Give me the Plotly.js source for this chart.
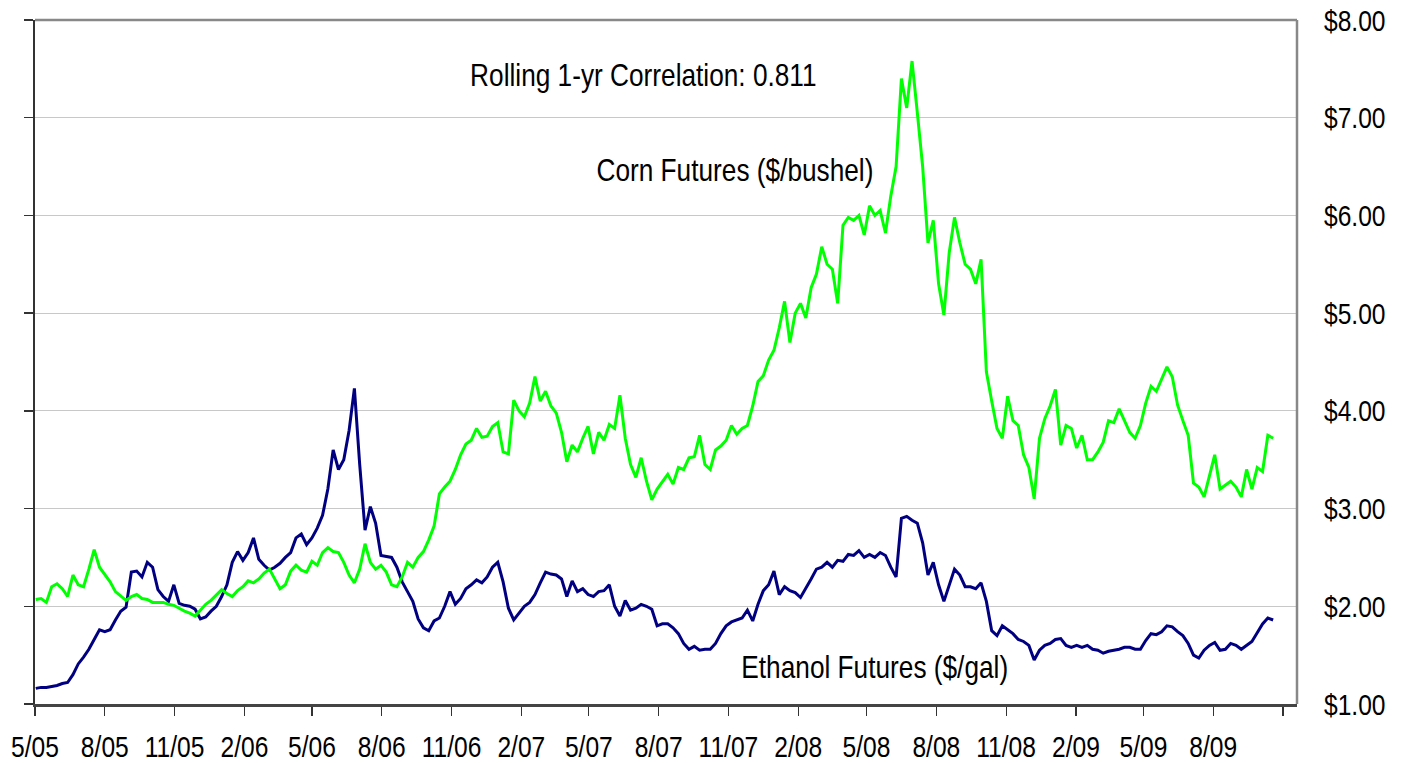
<!DOCTYPE html>
<html>
<head>
<meta charset="utf-8">
<script src="https://cdn.plot.ly/plotly-3.0.1.min.js"></script>
<style>html,body{margin:0;padding:0;background:#fff;}#chart{width:1403px;height:763px;}</style>
</head>
<body>
<div id="chart"></div>
<script>
// Weekly observation dates (Mondays)
const weeks = [
'2005-05-02','2005-05-09','2005-05-16','2005-05-23','2005-05-30','2005-06-06','2005-06-13','2005-06-20','2005-06-27','2005-07-04',
'2005-07-11','2005-07-18','2005-07-25','2005-08-01','2005-08-08','2005-08-15','2005-08-22','2005-08-29','2005-09-05','2005-09-12',
'2005-09-19','2005-09-26','2005-10-03','2005-10-10','2005-10-17','2005-10-24','2005-10-31','2005-11-07','2005-11-14','2005-11-21',
'2005-11-28','2005-12-05','2005-12-12','2005-12-19','2005-12-26','2006-01-02','2006-01-09','2006-01-16','2006-01-23','2006-01-30',
'2006-02-06','2006-02-13','2006-02-20','2006-02-27','2006-03-06','2006-03-13','2006-03-20','2006-03-27','2006-04-03','2006-04-10',
'2006-04-17','2006-04-24','2006-05-01','2006-05-08','2006-05-15','2006-05-22','2006-05-29','2006-06-05','2006-06-12','2006-06-19',
'2006-06-26','2006-07-03','2006-07-10','2006-07-17','2006-07-24','2006-07-31','2006-08-07','2006-08-14','2006-08-21','2006-08-28',
'2006-09-04','2006-09-11','2006-09-18','2006-09-25','2006-10-02','2006-10-09','2006-10-16','2006-10-23','2006-10-30','2006-11-06',
'2006-11-13','2006-11-20','2006-11-27','2006-12-04','2006-12-11','2006-12-18','2006-12-25','2007-01-01','2007-01-08','2007-01-15',
'2007-01-22','2007-01-29','2007-02-05','2007-02-12','2007-02-19','2007-02-26','2007-03-05','2007-03-12','2007-03-19','2007-03-26',
'2007-04-02','2007-04-09','2007-04-16','2007-04-23','2007-04-30','2007-05-07','2007-05-14','2007-05-21','2007-05-28','2007-06-04',
'2007-06-11','2007-06-18','2007-06-25','2007-07-02','2007-07-09','2007-07-16','2007-07-23','2007-07-30','2007-08-06','2007-08-13',
'2007-08-20','2007-08-27','2007-09-03','2007-09-10','2007-09-17','2007-09-24','2007-10-01','2007-10-08','2007-10-15','2007-10-22',
'2007-10-29','2007-11-05','2007-11-12','2007-11-19','2007-11-26','2007-12-03','2007-12-10','2007-12-17','2007-12-24','2007-12-31',
'2008-01-07','2008-01-14','2008-01-21','2008-01-28','2008-02-04','2008-02-11','2008-02-18','2008-02-25','2008-03-03','2008-03-10',
'2008-03-17','2008-03-24','2008-03-31','2008-04-07','2008-04-14','2008-04-21','2008-04-28','2008-05-05','2008-05-12','2008-05-19',
'2008-05-26','2008-06-02','2008-06-09','2008-06-16','2008-06-23','2008-06-30','2008-07-07','2008-07-14','2008-07-21','2008-07-28',
'2008-08-04','2008-08-11','2008-08-18','2008-08-25','2008-09-01','2008-09-08','2008-09-15','2008-09-22','2008-09-29','2008-10-06',
'2008-10-13','2008-10-20','2008-10-27','2008-11-03','2008-11-10','2008-11-17','2008-11-24','2008-12-01','2008-12-08','2008-12-15',
'2008-12-22','2008-12-29','2009-01-05','2009-01-12','2009-01-19','2009-01-26','2009-02-02','2009-02-09','2009-02-16','2009-02-23',
'2009-03-02','2009-03-09','2009-03-16','2009-03-23','2009-03-30','2009-04-06','2009-04-13','2009-04-20','2009-04-27','2009-05-04',
'2009-05-11','2009-05-18','2009-05-25','2009-06-01','2009-06-08','2009-06-15','2009-06-22','2009-06-29','2009-07-06','2009-07-13',
'2009-07-20','2009-07-27','2009-08-03','2009-08-10','2009-08-17','2009-08-24','2009-08-31','2009-09-07','2009-09-14','2009-09-21',
'2009-09-28','2009-10-05','2009-10-12','2009-10-19'
];

// Corn futures ($/bushel)
const corn = [
2.07,2.08,2.04,2.20,2.23,2.18,2.10,2.32,2.22,2.20,
2.38,2.58,2.40,2.32,2.25,2.15,2.10,2.06,2.10,2.12,
2.08,2.07,2.04,2.04,2.04,2.02,2.01,1.98,1.95,1.93,
1.90,1.96,2.02,2.06,2.12,2.17,2.13,2.10,2.16,2.20,
2.26,2.24,2.28,2.34,2.38,2.28,2.18,2.22,2.36,2.42,
2.37,2.35,2.46,2.42,2.55,2.60,2.56,2.55,2.45,2.32,
2.24,2.38,2.64,2.45,2.38,2.42,2.35,2.22,2.20,2.30,
2.45,2.40,2.50,2.56,2.68,2.82,3.15,3.22,3.28,3.40,
3.55,3.66,3.70,3.82,3.73,3.74,3.84,3.88,3.58,3.56,
4.11,4.00,3.94,4.08,4.35,4.10,4.20,4.05,3.98,3.78,
3.48,3.65,3.58,3.72,3.84,3.56,3.78,3.70,3.86,3.82,
4.16,3.72,3.45,3.32,3.52,3.28,3.09,3.20,3.28,3.35,
3.25,3.42,3.40,3.52,3.53,3.75,3.45,3.40,3.60,3.64,
3.70,3.85,3.76,3.82,3.85,4.05,4.30,4.36,4.52,4.62,
4.85,5.12,4.70,5.00,5.10,4.95,5.26,5.40,5.68,5.50,
5.45,5.10,5.90,5.98,5.95,6.00,5.80,6.10,6.00,6.05,
5.82,6.20,6.50,7.40,7.10,7.58,7.05,6.50,5.72,5.95,
5.30,4.98,5.62,5.98,5.72,5.50,5.45,5.30,5.55,4.40,
4.10,3.82,3.72,4.15,3.90,3.85,3.55,3.42,3.10,3.72,
3.92,4.05,4.22,3.65,3.85,3.82,3.62,3.75,3.50,3.50,
3.58,3.68,3.90,3.88,4.02,3.90,3.78,3.72,3.85,4.08,
4.25,4.20,4.32,4.45,4.35,4.06,3.90,3.75,3.26,3.22,
3.12,3.35,3.55,3.20,3.24,3.28,3.22,3.12,3.40,3.20,
3.42,3.38,3.75,3.72
];

// Ethanol futures ($/gal)
const ethanol = [
1.16,1.17,1.17,1.18,1.19,1.21,1.22,1.30,1.41,1.48,
1.56,1.66,1.76,1.74,1.76,1.86,1.95,1.99,2.35,2.36,
2.30,2.45,2.40,2.17,2.10,2.05,2.22,2.03,2.01,2.00,
1.97,1.87,1.89,1.95,2.00,2.10,2.22,2.45,2.56,2.47,
2.55,2.70,2.48,2.42,2.37,2.40,2.44,2.50,2.55,2.70,
2.74,2.63,2.70,2.80,2.93,3.20,3.60,3.40,3.50,3.80,
4.23,3.45,2.78,3.02,2.85,2.52,2.51,2.50,2.40,2.25,
2.15,2.05,1.87,1.78,1.75,1.85,1.88,2.00,2.15,2.02,
2.08,2.18,2.22,2.27,2.24,2.30,2.40,2.45,2.25,1.98,
1.86,1.93,2.00,2.04,2.12,2.24,2.35,2.33,2.32,2.28,
2.10,2.26,2.15,2.18,2.12,2.10,2.15,2.16,2.22,2.00,
1.90,2.06,1.96,1.98,2.02,2.00,1.97,1.80,1.82,1.82,
1.78,1.72,1.62,1.56,1.59,1.55,1.56,1.56,1.62,1.72,
1.80,1.84,1.86,1.88,1.96,1.85,2.02,2.16,2.22,2.36,
2.12,2.20,2.16,2.14,2.09,2.18,2.28,2.38,2.40,2.45,
2.40,2.47,2.46,2.53,2.52,2.57,2.50,2.53,2.50,2.55,
2.52,2.40,2.30,2.90,2.92,2.88,2.85,2.65,2.32,2.45,
2.22,2.05,2.22,2.38,2.32,2.20,2.20,2.18,2.24,2.05,
1.75,1.70,1.80,1.76,1.72,1.66,1.64,1.60,1.45,1.55,
1.60,1.62,1.66,1.67,1.60,1.58,1.60,1.58,1.60,1.56,
1.55,1.52,1.54,1.55,1.56,1.58,1.58,1.56,1.56,1.65,
1.72,1.71,1.74,1.80,1.79,1.74,1.70,1.62,1.50,1.47,
1.55,1.60,1.63,1.55,1.56,1.62,1.60,1.56,1.60,1.64,
1.73,1.82,1.88,1.86
];

// Quarterly x-axis ticks
const tickDates = ['2005-05-01','2005-08-01','2005-11-01','2006-02-01','2006-05-01','2006-08-01','2006-11-01',
  '2007-02-01','2007-05-01','2007-08-01','2007-11-01','2008-02-01','2008-05-01','2008-08-01','2008-11-01',
  '2009-02-01','2009-05-01','2009-08-01','2009-11-01'];
const tickLabels = ['5/05','8/05','11/05','2/06','5/06','8/06','11/06','2/07','5/07','8/07','11/07',
  '2/08','5/08','8/08','11/08','2/09','5/09','8/09',''];
const priceTicks = [1,2,3,4,5,6,7,8];

const FONT = 'Liberation Sans Narrow, Arial Narrow, Liberation Sans, Arial, sans-serif';

const traces = [
  {x: weeks, y: ethanol, type: 'scatter', mode: 'lines', name: 'Ethanol Futures ($/gal)',
   line: {color: '#000080', width: 3}, yaxis: 'y', hoverinfo: 'skip'},
  {x: weeks, y: corn, type: 'scatter', mode: 'lines', name: 'Corn Futures ($/bushel)',
   line: {color: '#00FF00', width: 3}, yaxis: 'y2', hoverinfo: 'skip'}
];

const layout = {
  width: 1403, height: 763,
  margin: {l: 35, r: 106, t: 20, b: 59, pad: 0},
  paper_bgcolor: '#ffffff', plot_bgcolor: '#ffffff',
  showlegend: false,
  font: {family: FONT, size: 30, color: '#000000'},
  xaxis: {
    type: 'date', range: ['2005-05-01', '2009-11-19 10:00'],
    tickmode: 'array', tickvals: tickDates, ticktext: tickLabels, tickangle: 0,
    ticks: 'outside', ticklen: 9, tickwidth: 1.2, tickcolor: '#333333',
    showline: true, linecolor: '#444444', linewidth: 2.5,
    showgrid: false, zeroline: false, automargin: false,
    tickfont: {family: FONT, size: 30, color: '#000000'}, ticklabelstandoff: 6
  },
  yaxis: {
    range: [1, 8], tickmode: 'array', tickvals: priceTicks,
    showticklabels: false, ticks: 'outside', ticklen: 9, tickwidth: 1.5, tickcolor: '#333333',
    showline: true, linecolor: '#333333', linewidth: 2.5,
    showgrid: true, gridcolor: '#c8c8c8', gridwidth: 1.2, zeroline: false, automargin: false
  },
  yaxis2: {
    overlaying: 'y', side: 'right', range: [1, 8], tickmode: 'array', tickvals: priceTicks,
    tickformat: '$.2f', ticks: '', showline: false, showgrid: false, zeroline: false,
    automargin: false, ticklabelstandoff: 26,
    tickfont: {family: FONT, size: 30, color: '#000000'}
  },
  shapes: [
    {type: 'line', xref: 'paper', yref: 'paper', x0: 0, x1: 1, y0: 1, y1: 1, line: {color: '#888888', width: 2.5}},
    {type: 'line', xref: 'paper', yref: 'paper', x0: 1, x1: 1, y0: 0, y1: 1, line: {color: '#888888', width: 2.5}}
  ],
  annotations: [
    {text: 'Rolling 1-yr Correlation: 0.811', xref: 'paper', yref: 'paper', x: 0.4818, y: 0.9196,
     showarrow: false, xanchor: 'center', yanchor: 'middle', font: {family: FONT, size: 32, color: '#000'}},
    {text: 'Corn Futures ($/bushel)', xref: 'paper', yref: 'paper', x: 0.5547, y: 0.7807,
     showarrow: false, xanchor: 'center', yanchor: 'middle', font: {family: FONT, size: 32, color: '#000'}},
    {text: 'Ethanol Futures ($/gal)', xref: 'paper', yref: 'paper', x: 0.6656, y: 0.0541,
     showarrow: false, xanchor: 'center', yanchor: 'middle', font: {family: FONT, size: 32, color: '#000'}}
  ]
};

// Is a real narrow face installed? Compare its measured width against a known fallback.
function narrowFaceInstalled() {
  const ctx = document.createElement('canvas').getContext('2d');
  const s = 'Rolling 1-yr Correlation 0123456789';
  ctx.font = '30px monospace';
  const wMono = ctx.measureText(s).width;
  ctx.font = '30px "Liberation Sans Narrow", monospace';
  const wA = ctx.measureText(s).width;
  ctx.font = '30px "Arial Narrow", monospace';
  const wB = ctx.measureText(s).width;
  return Math.abs(wA - wMono) > 0.5 || Math.abs(wB - wMono) > 0.5;
}

// The reference uses an Arial-Narrow-like face; compress regular-width text to match.
function narrowText(gd) {
  if (narrowFaceInstalled()) return;
  gd.querySelectorAll('svg text').forEach(function (el) {
    if (!el.textContent) return;
    const bb = el.getBBox();
    const anchor = el.getAttribute('text-anchor') || 'start';
    let cx = bb.x + bb.width / 2;
    if (anchor === 'start') cx = bb.x;
    else if (anchor === 'end') cx = bb.x + bb.width;
    const t = el.getAttribute('transform') || '';
    el.setAttribute('transform', t + ' translate(' + cx + ',0) scale(0.82,1) translate(' + (-cx) + ',0)');
  });
}

Plotly.newPlot('chart', traces, layout, {displayModeBar: false, staticPlot: true})
  .then(function (gd) { narrowText(gd); });
</script>
</body>
</html>
